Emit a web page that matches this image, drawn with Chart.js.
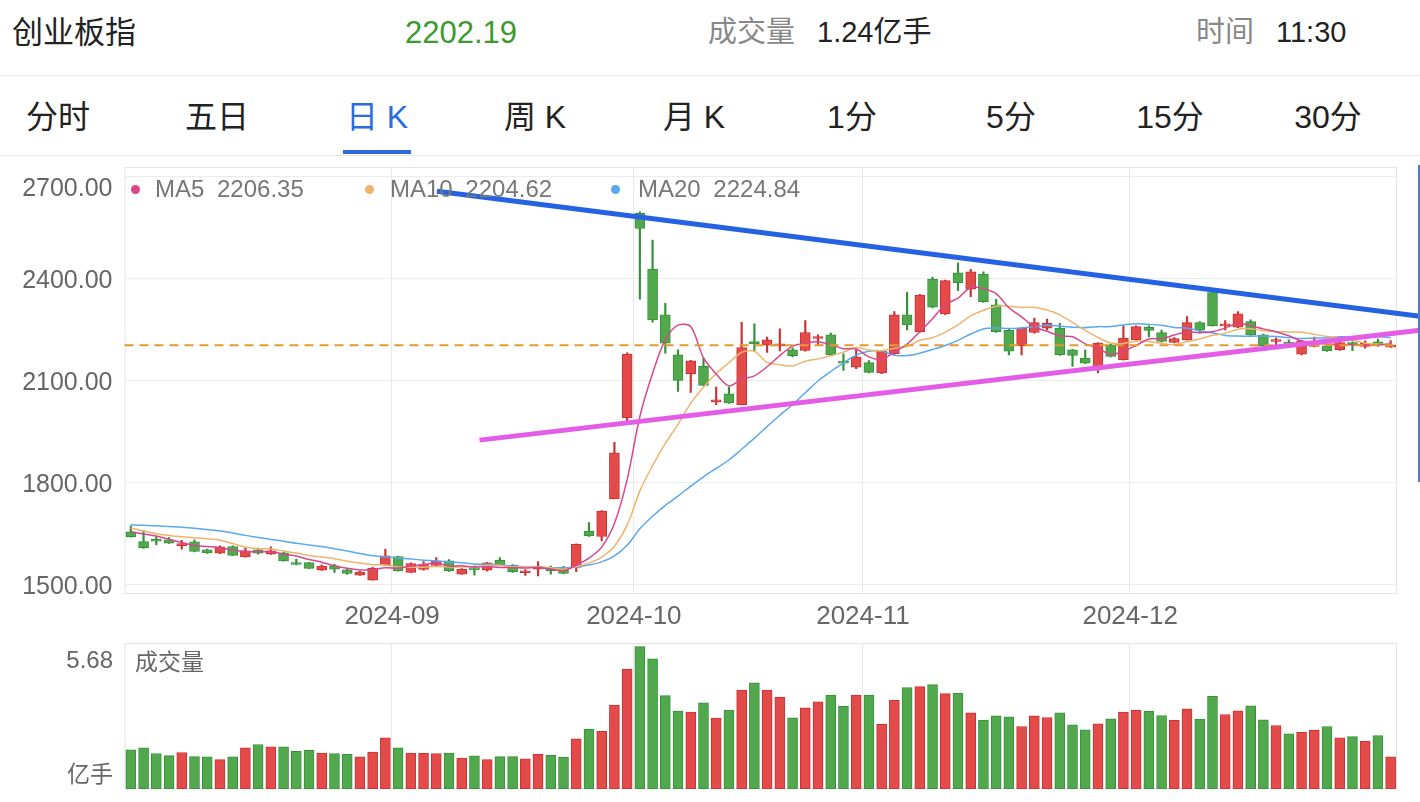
<!DOCTYPE html>
<html lang="zh-CN">
<head>
<meta charset="utf-8">
<title>创业板指 日K</title>
<script src="https://cdn.jsdelivr.net/npm/chart.js@4.4.1/dist/chart.umd.min.js"></script>
<style>
  html, body { margin: 0; padding: 0; background: #fff; }
  body { width: 1420px; height: 802px; position: relative; overflow: hidden;
         font-family: "Liberation Sans", "Noto Sans CJK SC", sans-serif; }
  .t { position: absolute; white-space: nowrap; line-height: 1; z-index: 2; }
  .hline { position: absolute; left: 0; width: 1420px; height: 1px; background: #e6e6e6; }
  .tab { position: absolute; top: 101px; font-size: 32px; color: #222; transform: translateX(-50%); white-space: nowrap; line-height: 1; }
  .dot { position: absolute; width: 9px; height: 9px; border-radius: 50%; z-index: 2; }
  .leg { font-size: 24px; color: #777; top: 177px; word-spacing: 6px; }
  canvas { position: absolute; left: 0; }
</style>
</head>
<body>
  <!-- header -->
  <div class="t" style="left:12px;top:17px;font-size:31px;color:#222">创业板指</div>
  <div class="t" style="left:405px;top:17px;font-size:31px;color:#3b9a2e">2202.19</div>
  <div class="t" style="left:708px;top:18px;font-size:29px;color:#888">成交量</div>
  <div class="t" style="left:817px;top:18px;font-size:29px;color:#222">1.24亿手</div>
  <div class="t" style="left:1196px;top:18px;font-size:29px;color:#888">时间</div>
  <div class="t" style="left:1276px;top:18px;font-size:29px;color:#222">11:30</div>
  <div class="hline" style="top:75px"></div>

  <!-- period tabs -->
  <div class="tab" style="left:58px">分时</div>
  <div class="tab" style="left:217px">五日</div>
  <div class="tab" style="left:377px;color:#2b6de0">日 K</div>
  <div class="tab" style="left:535px">周 K</div>
  <div class="tab" style="left:694px">月 K</div>
  <div class="tab" style="left:852px">1分</div>
  <div class="tab" style="left:1011px">5分</div>
  <div class="tab" style="left:1170px">15分</div>
  <div class="tab" style="left:1328px">30分</div>
  <div style="position:absolute;left:343px;top:150px;width:68px;height:4px;background:#2b6de0"></div>
  <div class="hline" style="top:155px"></div>

  <canvas id="kline" width="1420" height="480" style="top:155px"></canvas>
  <canvas id="vol" width="1420" height="167" style="top:635px"></canvas>

  <!-- MA legend -->
  <div class="dot" style="left:131px;top:185px;background:#d8478c"></div>
  <div class="t leg" style="left:155px">MA5 2206.35</div>
  <div class="dot" style="left:365px;top:185px;background:#eeb46e"></div>
  <div class="t leg" style="left:390px">MA10 2204.62</div>
  <div class="dot" style="left:611px;top:185px;background:#5aa8ef"></div>
  <div class="t leg" style="left:638px">MA20 2224.84</div>

  <!-- volume panel labels -->
  <div class="t" style="left:135px;top:651px;font-size:23px;color:#666">成交量</div>
  <div class="t" style="right:1307px;top:648px;font-size:24px;color:#666">5.68</div>
  <div class="t" style="right:1307px;top:763px;font-size:23px;color:#666">亿手</div>

  <div style="position:absolute;left:1418px;top:165px;width:1.5px;height:317px;background:#4d7cc4;z-index:2"></div>

<script>
// trading days (2024-08-02 .. 2024-12-30)
const augDays = [2,5,6,7,8,9,12,13,14,15,16,19,20,21,22,23,26,27,28,29,30];
const sepDays = [2,3,4,5,6,9,10,11,12,13,18,19,20,23,24,25,26,27,30];
const octDays = [8,9,10,11,14,15,16,17,18,21,22,23,24,25,28,29,30,31];
const novDays = [1,4,5,6,7,8,11,12,13,14,15,18,19,20,21,22,25,26,27,28,29];
const decDays = [2,3,4,5,6,9,10,11,12,13,16,17,18,19,20,23,24,25,26,27,30];

const openPrices = [1653.2,1624.8,1628.7,1629.7,1613.1,1623.8,1600.4,1590.6,1610.2,1579.9,
  1600.4,1587.7,1591.6,1563.2,1563.2,1540.7,1553.5,1541.7,1526.1,1511.4,
  1556.4,1580.8,1533.9,1542.7,1554.4,1568.1,1529.0,1545.6,1540.7,1570.1,
  1555.4,1533.0,1543.7,1548.6,1548.6,1548.6,1656.0,1639.6,1751.0,1988.5,
  2590.0,2426.4,2291.5,2174.2,2118.5,2140.0,2035.5,2059.0,2027.6,2213.2,
  2202.6,2200.6,2188.9,2186.8,2222.0,2232.8,2154.5,2138.1,2151.6,2120.5,
  2177.1,2291.5,2242.5,2397.0,2294.4,2415.5,2366.9,2411.7,2320.8,2246.0,
  2200.6,2239.6,2252.4,2252.4,2188.9,2164.5,2138.1,2203.5,2159.5,2218.2,
  2255.3,2239.6,2210.3,2218.2,2268.9,2357.0,2259.2,2255.4,2271.9,2232.8,
  2213.2,2210.3,2176.2,2198.5,2200.6,2188.9,2210.3,2198.5,2212.3,2196.8];
const highPrices = [1670.8,1656,1639.5,1636.6,1628.7,1629.7,1603,1612,1612,1605.3,
  1605.3,1609.2,1594,1573,1564,1556.4,1558,1543,1537,1549,
  1602.3,1582,1562,1566.2,1577.9,1572,1545,1553.5,1564,1577.9,
  1557,1542.7,1566.2,1552.5,1552,1618,1680.6,1716,1917,2180,
  2595,2511.4,2325.8,2188.9,2158,2164.5,2079.4,2079.4,2270,2265.1,
  2226,2250.4,2195,2274.8,2232.8,2237.8,2177,2188.9,2157,2186,
  2301.2,2358,2352,2403,2394,2444.9,2425.5,2418,2337.5,2250,
  2254,2281.8,2278.9,2267,2190,2188.9,2210,2206,2259.2,2259,
  2259,2247,2225,2286.5,2271.9,2365,2274.8,2301.2,2277,2235,
  2224,2218,2217,2226,2203,2212,2212,2215,2220.2,2216.1];
const lowPrices = [1638,1605,1615,1619,1602.3,1594,1590,1589,1583,1579,
  1587.7,1587,1567,1556,1545,1540,1534,1528,1525,1511,
  1555,1538,1533,1541,1554,1537,1528,1526.1,1538,1555,
  1534,1525,1524,1529,1530,1536,1640,1626.7,1750,1978.6,
  2337.5,2270,2179,2066.6,2063.6,2083,2027.6,2031,2027,2183.9,
  2181,2185.9,2168,2185,2203.5,2172,2128,2133,2121,2119,
  2175,2247.5,2240,2312,2292,2362.8,2345,2328,2240,2174,
  2174,2238,2247.5,2172,2139.9,2148,2120.5,2168,2158,2217,
  2227,2212,2209,2217,2237.8,2258,2247.5,2254,2231,2195,
  2197,2200,2174,2197,2184,2187,2186,2194,2198.5,2196];
const closePrices = [1639.5,1607.2,1625.8,1620,1618.9,1595.5,1591.6,1609.2,1583.8,1597.4,
  1590.6,1597.4,1568.1,1557.4,1545.6,1552.5,1543.7,1531,1534.9,1546.6,
  1582.8,1538.8,1560.3,1557.4,1568.1,1538.8,1543.7,1541.7,1562.3,1556.4,
  1535.9,1537.8,1551.5,1538.8,1531,1617,1641.4,1714.6,1885.9,2176.2,
  2545.7,2276.8,2208.5,2098.8,2156.6,2084.2,2042,2032.5,2195.6,2206.4,
  2218.2,2206.4,2171.3,2239.6,2226,2174.2,2149.8,2167.4,2122.3,2184,
  2291.5,2262.2,2350.1,2314,2392.1,2386.2,2418.5,2330.5,2242.5,2185,
  2252.5,2268.9,2267,2174.2,2172.2,2149.8,2208.5,2169.3,2223.1,2257.2,
  2245.5,2213.2,2222,2268.9,2247.5,2259.2,2265.1,2294.4,2232.8,2200.6,
  2218.2,2205.5,2215.2,2203.5,2186,2210.3,2203.5,2208.5,2203.5,2202.19];

const ma5 = [1654,1647,1641,1631,1622.3,1613.5,1610.4,1607.0,1599.8,1595.5,
  1594.5,1595.7,1587.5,1582.2,1571.8,1564.2,1553.5,1546.0,1541.5,1541.7,
  1547.8,1546.8,1552.7,1557.2,1561.5,1552.7,1553.7,1549.9,1550.9,1548.6,
  1548.0,1546.8,1548.8,1544.1,1539.0,1555.2,1575.9,1608.6,1678.0,1807.0,
  1992.8,2119.8,2218.6,2261.2,2257.3,2165.0,2118.0,2082.8,2102.2,2112.1,
  2138.9,2171.8,2199.6,2208.4,2212.3,2203.5,2192.2,2191.4,2167.9,2159.5,
  2183.0,2205.5,2242.0,2280.4,2322.0,2340.9,2372.2,2368.3,2354.0,2312.5,
  2285.8,2255.9,2243.2,2229.5,2227.0,2206.4,2194.3,2174.8,2184.6,2201.6,
  2220.7,2221.7,2232.2,2241.4,2239.4,2242.2,2252.5,2267.0,2259.8,2250.4,
  2242.2,2230.3,2214.5,2208.6,2205.7,2204.1,2203.7,2202.4,2202.4,2206.35];
const ma10 = [1664,1656,1648,1643,1639,1636,1633,1629,1619,1608.9,
  1604.0,1603.0,1597.3,1591.0,1583.7,1579.4,1574.6,1566.8,1561.9,1556.8,
  1556.0,1550.1,1549.4,1549.4,1551.6,1550.2,1550.2,1551.3,1554.1,1555.0,
  1550.3,1550.2,1549.4,1547.5,1543.8,1551.6,1561.4,1578.7,1611.0,1673.0,
  1774.0,1847.9,1913.6,1969.6,2032.2,2078.9,2118.9,2150.7,2181.7,2184.7,
  2152.0,2144.9,2141.2,2155.3,2162.2,2171.2,2182.0,2195.5,2188.2,2185.9,
  2193.3,2198.8,2216.7,2224.2,2240.8,2262.0,2288.8,2305.1,2317.2,2317.3,
  2313.4,2314.0,2305.7,2291.7,2269.8,2246.1,2225.1,2209.0,2207.1,2214.3,
  2213.6,2208.0,2203.5,2213.0,2220.5,2231.4,2237.1,2249.6,2250.6,2244.9,
  2242.2,2241.4,2240.7,2234.2,2228.1,2223.2,2217.0,2208.4,2205.5,2204.62];
const ma20 = [1674,1673,1671,1669,1667,1664,1660,1656,1650,1643,
  1637,1631,1626,1620,1615,1610,1604,1597,1590,1582.8,
  1580.0,1576.6,1573.3,1570.2,1567.6,1564.8,1562.4,1559.0,1558.0,1555.9,
  1553.2,1550.2,1549.4,1548.4,1547.7,1550.9,1555.8,1565.0,1582.5,1614.0,
  1662.2,1699.1,1731.5,1758.5,1788.0,1815.2,1840.2,1864.7,1896.4,1928.9,
  1963.0,1996.4,2027.4,2062.4,2097.2,2125.0,2150.5,2173.1,2184.9,2185.3,
  2172.6,2171.9,2179.0,2189.7,2201.5,2216.6,2235.4,2250.3,2252.7,2251.6,
  2253.3,2256.4,2261.2,2257.9,2255.3,2254.0,2257.0,2257.1,2262.1,2265.8,
  2263.5,2261.0,2254.6,2252.4,2245.1,2238.8,2231.1,2229.3,2228.8,2229.6,
  2227.9,2224.7,2222.1,2223.6,2224.3,2227.3,2227.1,2229.0,2228.0,2224.84];

// 成交量, 亿手
const volumes = [1.52,1.60,1.38,1.30,1.42,1.26,1.25,1.14,1.25,1.60,
  1.73,1.64,1.64,1.47,1.50,1.40,1.38,1.35,1.25,1.44,
  1.99,1.60,1.40,1.39,1.38,1.40,1.20,1.29,1.14,1.26,
  1.26,1.17,1.35,1.31,1.24,1.95,2.33,2.24,3.26,4.67,
  5.54,5.06,3.63,3.03,2.99,3.35,2.76,3.07,3.85,4.13,
  3.85,3.58,2.77,3.16,3.39,3.65,3.22,3.65,3.65,2.52,
  3.45,3.95,3.98,4.06,3.71,3.72,2.96,2.68,2.85,2.81,
  2.43,2.85,2.78,2.96,2.50,2.30,2.54,2.73,2.99,3.07,
  3.02,2.86,2.67,3.12,2.72,3.61,2.90,3.04,3.24,2.69,
  2.47,2.15,2.20,2.29,2.43,1.99,2.04,1.85,2.08,1.25];

const priceTicks = [1500, 1800, 2100, 2400, 2700];
const priceMin = 1470.6, priceMax = 2726.5;
const volMax = 5.68;
const lastPrice = 2202.19;
// hand drawn trend lines: [bar index, price]
const upperTrend = [[24.05, 2655], [101.3, 2287.7]];
const lowerTrend = [[27.4, 1923.2], [101.3, 2246.5]];

const pad = d => String(d).padStart(2, '0');
const tradeDates = [].concat(
  augDays.map(d => '2024-08-' + pad(d)),
  sepDays.map(d => '2024-09-' + pad(d)),
  octDays.map(d => '2024-10-' + pad(d)),
  novDays.map(d => '2024-11-' + pad(d)),
  decDays.map(d => '2024-12-' + pad(d))
);
const monthStart = tradeDates.map((d, i) => i > 0 && d.slice(0, 7) !== tradeDates[i - 1].slice(0, 7));

const RED = '#e34a4a', RED_EDGE = '#cc3030';
const GREEN = '#52a94d', GREEN_EDGE = '#35903a';
const up = closePrices.map((c, i) => c >= openPrices[i]);
const fill = up.map(u => u ? RED : GREEN);
const edge = up.map(u => u ? RED_EDGE : GREEN_EDGE);

Chart.defaults.font.family = '"Liberation Sans", "Noto Sans CJK SC", sans-serif';

const gridX = c => monthStart[c.index] ? '#e8e8e8' : 'rgba(0,0,0,0)';
const topTick = priceTicks[priceTicks.length - 1];

const frameBox = {
  id: 'frameBox',
  beforeDatasetsDraw(chart) {
    const { ctx, chartArea: a } = chart;
    ctx.save();
    ctx.strokeStyle = '#e4e4e4';
    ctx.lineWidth = 1;
    ctx.strokeRect(a.left + 0.5, a.top + 0.5, a.right - a.left - 1, a.bottom - a.top - 1);
    ctx.restore();
  }
};

const drawings = {
  id: 'drawings',
  afterDatasetsDraw(chart) {
    const { ctx, chartArea: a, scales: { x, y } } = chart;
    ctx.save();
    const py = y.getPixelForValue(lastPrice);
    ctx.setLineDash([9, 6]);
    ctx.strokeStyle = '#e39a2e';
    ctx.lineWidth = 2;
    ctx.beginPath();
    ctx.moveTo(a.left, py);
    ctx.lineTo(a.right, py);
    ctx.stroke();
    ctx.setLineDash([]);
    [[upperTrend, '#2462e3'], [lowerTrend, '#e45de6']].forEach(([pts, col]) => {
      ctx.strokeStyle = col;
      ctx.lineWidth = 5;
      ctx.beginPath();
      ctx.moveTo(x.getPixelForValue(pts[0][0]), y.getPixelForValue(pts[0][1]));
      ctx.lineTo(x.getPixelForValue(pts[1][0]), y.getPixelForValue(pts[1][1]));
      ctx.stroke();
    });
    ctx.restore();
  }
};

new Chart(document.getElementById('kline'), {
  type: 'bar',
  data: {
    labels: tradeDates,
    datasets: [
      { type: 'line', label: 'MA5', data: ma5, borderColor: '#d8478c', borderWidth: 1.5, pointRadius: 0, tension: 0.3, order: 0 },
      { type: 'line', label: 'MA10', data: ma10, borderColor: '#eeb46e', borderWidth: 1.5, pointRadius: 0, tension: 0.3, order: 0 },
      { type: 'line', label: 'MA20', data: ma20, borderColor: '#5aa8ef', borderWidth: 1.5, pointRadius: 0, tension: 0.3, order: 0 },
      { label: 'body', data: openPrices.map((o, i) => [o, closePrices[i]]), backgroundColor: fill, borderColor: edge,
        borderWidth: 1, borderSkipped: false, barThickness: 10, minBarLength: 2, grouped: false, order: 1 },
      { label: 'wick', data: lowPrices.map((l, i) => [l, highPrices[i]]), backgroundColor: edge,
        barThickness: 1.5, grouped: false, order: 2 }
    ]
  },
  options: {
    responsive: false,
    animation: false,
    layout: { padding: { top: 12, right: 23, left: 0, bottom: 0 } },
    plugins: { legend: { display: false }, tooltip: { enabled: false } },
    scales: {
      x: {
        offset: true,
        grid: { offset: true, drawTicks: false, color: gridX },
        border: { display: false },
        ticks: {
          autoSkip: false, maxRotation: 0, minRotation: 0, padding: 7, labelOffset: -6,
          color: '#666', font: { size: 26 },
          callback: (v, i) => monthStart[i] ? tradeDates[i].slice(0, 7) : ''
        },
        afterFit: s => { s.height = 41; s.paddingLeft = 0; s.paddingRight = 0; }
      },
      y: {
        min: priceMin, max: priceMax,
        afterBuildTicks: s => { s.ticks = priceTicks.map(v => ({ value: v })); },
        grid: { color: '#ececec', drawTicks: false },
        border: { display: false },
        ticks: {
          padding: 12, labelOffset: 3, color: '#666',
          // the top label sits a little lower, inside the frame
          font: c => ({ size: 25, lineHeight: c.tick && c.tick.value === topTick ? 0.8 : 1.2 }),
          callback: v => v === topTick ? ['', Number(v).toFixed(2)] : Number(v).toFixed(2)
        },
        afterFit: s => { s.width = 124.5; s.paddingTop = 0; s.paddingBottom = 0; }
      }
    }
  },
  plugins: [frameBox, drawings]
});

new Chart(document.getElementById('vol'), {
  type: 'bar',
  data: {
    labels: tradeDates,
    datasets: [{
      label: '成交量', data: volumes, backgroundColor: fill, borderColor: edge,
      borderWidth: 1, borderSkipped: false, barThickness: 10
    }]
  },
  options: {
    responsive: false,
    animation: false,
    layout: { padding: { top: 8, right: 23, left: 0, bottom: 13 } },
    plugins: { legend: { display: false }, tooltip: { enabled: false } },
    scales: {
      x: {
        offset: true,
        grid: { offset: true, drawTicks: false, color: gridX },
        border: { display: false },
        ticks: { display: false },
        afterFit: s => { s.height = 0; s.paddingLeft = 0; s.paddingRight = 0; }
      },
      y: {
        min: 0, max: volMax,
        grid: { display: false },
        border: { display: false },
        ticks: { display: false },
        afterFit: s => { s.width = 124.5; s.paddingTop = 0; s.paddingBottom = 0; }
      }
    }
  },
  plugins: [frameBox]
});
</script>
</body>
</html>
